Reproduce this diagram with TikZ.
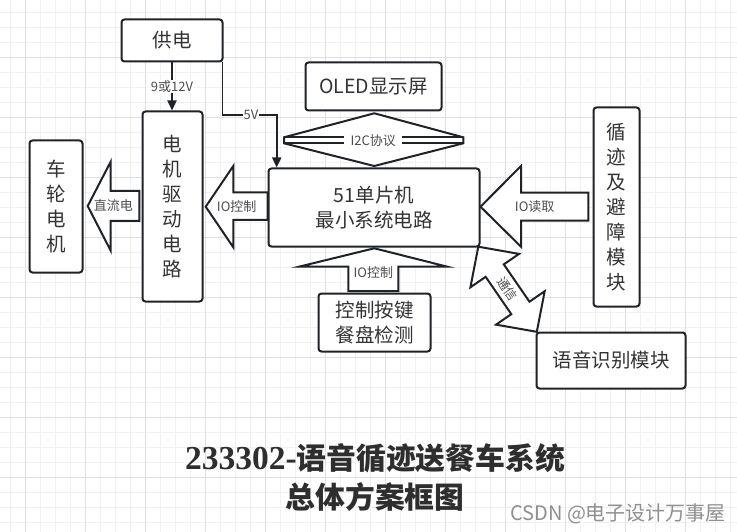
\documentclass[tikz,border=0pt]{standalone}
\usepackage{fontspec}
\setmainfont{Noto Sans CJK SC}
\newfontfamily\titleserif{Liberation Serif}
\usetikzlibrary{arrows.meta,calc}
\definecolor{linec}{HTML}{1F2328}
\definecolor{txtc}{HTML}{333333}
\definecolor{lblc}{HTML}{4D4D4D}
\definecolor{titlec}{HTML}{2E2E2E}
\definecolor{wmc}{HTML}{8F8F8F}
\definecolor{gridminor}{HTML}{F1F1F1}
\definecolor{gridmajor}{HTML}{E0E0E0}
\begin{document}
\begin{tikzpicture}[x=1pt,y=-1pt,
  box/.style={draw=linec,line width=2pt,rounded corners=3pt,fill=white,text=txtc,
    font=\fontsize{19.5}{25}\selectfont,align=center,inner sep=0pt},
  conn/.style={draw=linec,line width=1.8pt,-{Triangle[length=10pt,width=9pt]}},
  blockarrow/.style={draw=linec,line width=2pt,fill=white,line join=miter},
  lbl/.style={text=lblc,font=\fontsize{13}{15}\selectfont,inner sep=1pt}
]
\useasboundingbox (0,0) rectangle (737,532);
\fill[white] (0,0) rectangle (737,532);
% grid
\foreach \i in {0,...,48} \draw[gridminor,line width=1pt] ({10.7+15*\i},0) -- ({10.7+15*\i},532);
\foreach \j in {0,...,34} \draw[gridminor,line width=1pt] (0,{12.3+15*\j}) -- (737,{12.3+15*\j});
\foreach \i in {0,...,11} \draw[gridmajor,line width=1pt] ({25.7+60*\i},0) -- ({25.7+60*\i},532);
\foreach \j in {0,...,7} \draw[gridmajor,line width=1pt] (0,{57.3+60*\j}) -- (737,{57.3+60*\j});

% boxes
\node[box,minimum width=101pt,minimum height=42pt] (power) at (172,40.5) {供电};
\node[box,minimum width=136pt,minimum height=48pt] (oled) at (373.5,86.5) {OLED显示屏};
\node[box,minimum width=211pt,minimum height=78pt] (mcu) at (374,207.5) {51单片机\\最小系统电路};
\node[box,minimum width=46pt,minimum height=199pt] (track) at (616.5,207) {循\\迹\\及\\避\\障\\模\\块};
\node[box,minimum width=60pt,minimum height=190pt] (drv) at (172.5,206.5) {电\\机\\驱\\动\\电\\路};
\node[box,minimum width=53pt,minimum height=132pt] (motor) at (56,206.5) {车\\轮\\电\\机};
\node[box,minimum width=112pt,minimum height=58pt] (keys) at (374.5,322.5) {控制按键\\餐盘检测};
\node[box,minimum width=149pt,minimum height=56pt] (voice) at (611,360.5) {语音识别模块};

% power connectors
\draw[conn] (power.south) -- node[lbl,fill=white] (l912) {9或12V} (power.south |- drv.north);
\coordinate (bend5) at (276.7,115);
\draw[conn] ([xshift=-1pt]power.south east) |- (bend5) -- (bend5 |- mcu.north);
\node[lbl,fill=white] (l5v) at (251,115) {5V};

% I2C double arrow
\draw[blockarrow] (284,137.3) -- (374.3,113.3) -- (463.3,137.3) -- (463.3,143.3) -- (374.3,166) -- (284,143.3) -- cycle;
\draw[linec,line width=2pt] (284,137.3) -- (463.3,137.3) (284,143.3) -- (463.3,143.3);
\node[lbl,fill=white,minimum width=58pt,minimum height=12pt] (li2c) at (373.3,140.3) {I2C协议};

% 直流电 arrow
\draw[blockarrow] (139.3,191) -- (110.7,191) -- (110.7,161.7) -- (87.7,206) -- (110.7,250.7) -- (110.7,221) -- (139.3,221) -- cycle;
\node[lbl] (ldc) at (113.4,206) {直流电};

% IO控制 (mcu -> drv)
\draw[blockarrow] (mcu.west |- 0,192.3) -- (233.3,192.3) -- (233.3,166) -- (205.7,206.7) -- (233.3,247.3) -- (233.3,220) -- (mcu.west |- 0,220) -- cycle;
\node[lbl] (lio1) at (236.7,207) {IO控制};

% IO读取 (track -> mcu)
\draw[blockarrow] (588.3,192.7) -- (521,192.7) -- (521,166) -- (mcu.east |- 0,206.7) -- (521,246.7) -- (521,220.7) -- (588.3,220.7) -- cycle;
\node[lbl] (lio2) at (534.7,207) {IO读取};

% IO控制 (keys -> mcu)
\draw[blockarrow] (348.3,291) -- (348.3,266.7) -- (299,266.7) -- (374.3,248.3) -- (447.3,266.7) -- (398.3,266.7) -- (398.3,291) -- cycle;
\node[lbl] (lio3) at (373.3,272.5) {IO控制};

% 通信 double arrow
\begin{scope}[shift={(478.3,246.7)},rotate=-55.5]
\draw[blockarrow] (0,0) -- (29,-29.5) -- (29,-11) -- (74.3,-11) -- (74.3,-29.5) -- (103.3,0) -- (74.3,29.5) -- (74.3,11) -- (29,11) -- (29,29.5) -- cycle;
\node[lbl,rotate=-55.5,inner sep=0pt,font=\fontsize{12.5}{14}\selectfont] (ltx) at (51.6,0) {通信};
\end{scope}

% title
\node[text=titlec,font=\bfseries\fontsize{29.8}{38.5}\selectfont,align=center,inner sep=0pt] (title) at (375,477.5)
  {{\titleserif\fontsize{33.5}{38.5}\selectfont 233302-}语音循迹送餐车系统\\总体方案框图};
\node[text=wmc,font=\fontsize{20}{22}\selectfont,anchor=west,inner sep=0pt] (wm) at (510,513.5) {CSDN @电子设计万事屋};
\end{tikzpicture}
\end{document}
